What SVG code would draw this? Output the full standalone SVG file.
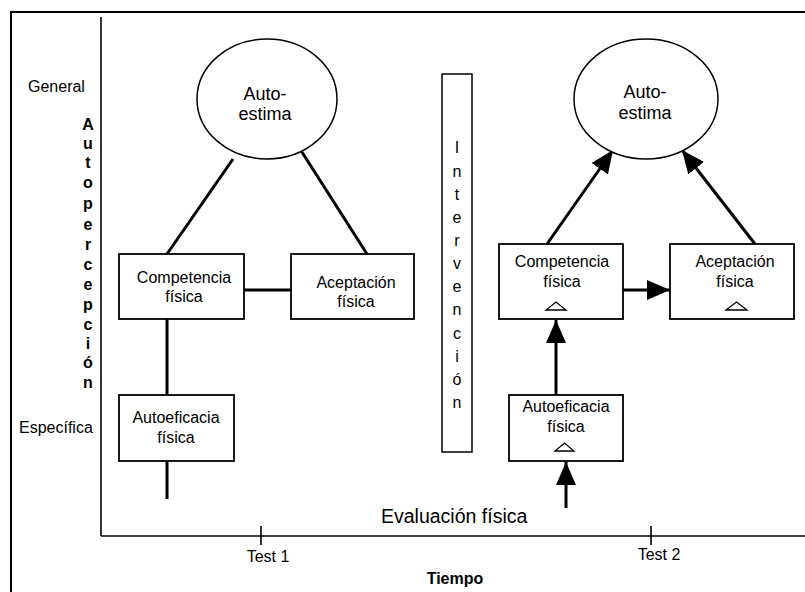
<svg xmlns="http://www.w3.org/2000/svg" width="805" height="592" viewBox="0 0 805 592">
<defs>
<style>
text{font-family:"Liberation Sans",Arial,sans-serif;fill:#000}
.t16{font-size:16px;text-anchor:middle}
.lbl{font-size:16px}
.big{font-size:18px;text-anchor:middle}
.bold{font-size:16px;font-weight:bold;text-anchor:middle}
.box{fill:#fff;stroke:#000;stroke-width:1.8}
.circ{fill:#fff;stroke:#000;stroke-width:1.5}
.tri{fill:#fff;stroke:#000;stroke-width:1.3}
.con{stroke:#000;stroke-width:3;fill:none}
.axis{stroke:#000;stroke-width:1.6;fill:none}
</style>
<marker id="arr" markerUnits="userSpaceOnUse" markerWidth="24" markerHeight="22" refX="23" refY="10" orient="auto">
<path d="M0,0 L23,10 L0,20 Z" fill="#000"/>
</marker>
</defs>
<rect x="11" y="12" width="820" height="620" fill="none" stroke="#000" stroke-width="2"/>
<g id="axes">
<line class="axis" x1="101" y1="17" x2="101" y2="536"/>
<line class="axis" x1="101" y1="536" x2="805" y2="536"/>
<line class="axis" x1="261" y1="526" x2="261" y2="545"/>
<line class="axis" x1="651" y1="526" x2="651" y2="545"/>
<text class="t16" x="268" y="562">Test 1</text>
<text class="t16" x="659" y="560">Test 2</text>
<text class="bold" x="455" y="584">Tiempo</text>
<text class="lbl" x="28" y="92">General</text>
<text class="lbl" x="19" y="433">Específica</text>
<text class="bold" x="88">
<tspan x="88" y="130">A</tspan><tspan x="88" y="149">u</tspan><tspan x="88" y="168">t</tspan><tspan x="88" y="188">o</tspan><tspan x="88" y="209">p</tspan><tspan x="88" y="230">e</tspan><tspan x="88" y="250">r</tspan><tspan x="88" y="270">c</tspan><tspan x="88" y="290">e</tspan><tspan x="88" y="310">p</tspan><tspan x="88" y="330">c</tspan><tspan x="88" y="349">i</tspan><tspan x="88" y="368">ó</tspan><tspan x="88" y="388">n</tspan>
</text>
<text x="381" y="523" style="font-size:19.5px">Evaluación física</text>
</g>
<g id="connectors">
<line class="con" x1="167" y1="254" x2="233" y2="159"/>
<line class="con" x1="367" y1="254" x2="300" y2="149"/>
<line class="con" x1="242" y1="290" x2="291" y2="290"/>
<line class="con" x1="167" y1="318" x2="167" y2="397"/>
<line class="con" x1="167" y1="459" x2="167" y2="499"/>
<line class="con" x1="547" y1="244" x2="613" y2="150" marker-end="url(#arr)"/>
<line class="con" x1="755" y1="244" x2="682" y2="150" marker-end="url(#arr)"/>
<line class="con" x1="622" y1="290" x2="670" y2="290" marker-end="url(#arr)"/>
<line class="con" x1="556" y1="395" x2="556" y2="320" marker-end="url(#arr)"/>
<line class="con" x1="566" y1="508" x2="566" y2="462" marker-end="url(#arr)"/>
</g>
<g id="autoestima1">
<ellipse class="circ" cx="267" cy="99" rx="70" ry="60"/>
<text class="big" x="265" y="100">Auto-</text>
<text class="big" x="265" y="120">estima</text>
</g>
<g id="competencia1">
<rect class="box" x="119" y="254" width="125" height="65"/>
<text class="t16" x="184" y="283">Competencia</text>
<text class="t16" x="184" y="302">física</text>
</g>
<g id="aceptacion1">
<rect class="box" x="291" y="254" width="123" height="65"/>
<text class="t16" x="356" y="288">Aceptación</text>
<text class="t16" x="356" y="307">física</text>
</g>
<g id="autoeficacia1">
<rect class="box" x="119" y="395" width="115" height="66"/>
<text class="t16" x="176" y="423">Autoeficacia</text>
<text class="t16" x="176" y="443">física</text>
</g>
<g id="intervencion">
<rect class="box" x="442" y="74" width="30" height="378" style="stroke-width:1.5"/>
<text class="t16">
<tspan x="457" y="153">I</tspan><tspan x="457" y="177">n</tspan><tspan x="457" y="200">t</tspan><tspan x="457" y="223">e</tspan><tspan x="457" y="246">r</tspan><tspan x="457" y="269">v</tspan><tspan x="457" y="292">e</tspan><tspan x="457" y="315">n</tspan><tspan x="457" y="339">c</tspan><tspan x="457" y="362">i</tspan><tspan x="457" y="385">ó</tspan><tspan x="457" y="408">n</tspan>
</text>
</g>
<g id="autoestima2">
<ellipse class="circ" cx="646" cy="99" rx="72" ry="60"/>
<text class="big" x="645" y="98">Auto-</text>
<text class="big" x="645" y="119">estima</text>
</g>
<g id="competencia2">
<rect class="box" x="499" y="244" width="124" height="75"/>
<text class="t16" x="562" y="267">Competencia</text>
<text class="t16" x="562" y="287">física</text>
<polygon class="tri" points="546,310 566,310 556,302"/>
</g>
<g id="aceptacion2">
<rect class="box" x="670" y="244" width="124" height="75"/>
<text class="t16" x="735" y="267">Aceptación</text>
<text class="t16" x="735" y="287">física</text>
<polygon class="tri" points="726,310 747,310 736.5,302"/>
</g>
<g id="autoeficacia2">
<rect class="box" x="509" y="395" width="114" height="66"/>
<text class="t16" x="566" y="412">Autoeficacia</text>
<text class="t16" x="566" y="432">física</text>
<polygon class="tri" points="555,451 574,451 564.5,443"/>
</g>
</svg>
